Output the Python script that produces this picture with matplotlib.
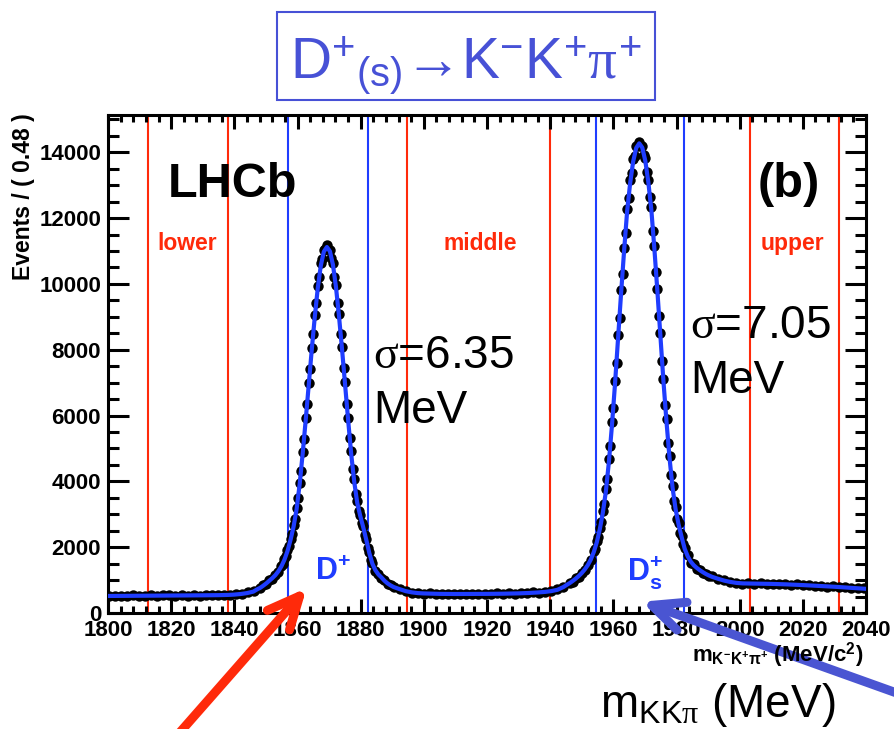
import numpy as np
import matplotlib
matplotlib.use('Agg')
import matplotlib.pyplot as plt
from matplotlib.ticker import MultipleLocator
from matplotlib.patches import Rectangle

plt.rcParams['font.family'] = ['Liberation Sans', 'DejaVu Sans']
plt.rcParams['mathtext.fontset'] = 'custom'
plt.rcParams['mathtext.rm'] = 'Liberation Sans'
plt.rcParams['mathtext.it'] = 'Liberation Serif'
plt.rcParams['mathtext.bf'] = 'Liberation Sans:bold'

# peak positions (MeV)
DP_MASS = 1869.3
DS_MASS = 1968.2

# data points, events per 0.48 MeV bin, by segment
left_flat = [505, 530, 512, 525, 535, 515, 528, 540, 522, 533, 545, 520, 538,
             530, 548, 532, 545, 538, 552, 545, 560, 572, 590, 625, 675, 760]
dp_outer_left = [845, 885, 1000, 1045, 1170, 1255]
dp_core = [1440, 1500, 1650, 1730, 1905, 2030, 2250, 2390, 2660, 2850, 3200, 3480,
           3950, 4320, 4900, 5290, 5920, 6350, 6990, 7420, 8060, 8470, 9060, 9410,
           9950, 10200, 10620, 10760, 11040, 11060,
           11180,
           11050, 11040, 10780, 10640, 10210, 9960, 9420, 9080, 8470, 8090, 7430,
           7010, 6350, 5940, 5310, 4910, 4370, 4060, 3610, 3390, 3090, 2990, 2740,
           2630, 2380, 2250, 1990, 1850, 1620, 1530]
dp_outer_right = [1280, 1190, 1060, 995, 885, 855]
mid_flat = [805, 715, 680, 615, 612, 585, 600, 575, 592, 570, 585, 590, 568, 586,
            575, 592, 578, 595, 582, 598, 588, 610, 598, 625, 618, 652, 660, 720, 790]
ds_outer_left = [920, 955, 1060, 1105, 1230, 1300, 1470, 1600]
ds_core = [1880, 1960, 2190, 2310, 2590, 2760, 3100, 3310, 3760, 4080, 4680, 5070,
           5790, 6240, 7050, 7600, 8450, 8960, 9800, 10290, 11090, 11560, 12290,
           12600, 13150, 13360, 13800, 13900, 14190, 14180,
           14320,
           14200, 14200, 13920, 13820, 13390, 13170, 12640, 12330, 11620, 11150,
           10360, 9850, 9030, 8500, 7670, 7110, 6320, 5880, 5170, 4780, 4180, 3870,
           3410, 3210, 2850, 2730, 2440, 2340, 2090, 1990]
ds_outer_right = [1750, 1530, 1480, 1350, 1320, 1220, 1200, 1125]
right_flat = [1110, 1025, 1000, 930, 925, 885, 910, 880, 905, 875, 895, 868, 885,
              855, 870, 838, 852, 822, 835, 800, 812, 780, 790, 755, 770, 745]

# fit curve
fit_left_x = [1800, 1805, 1810, 1815, 1820, 1825, 1830, 1835, 1838, 1840, 1842, 1844,
              1846, 1847.22, 1848.18]
fit_left_y = [518, 521, 524, 527, 530, 534, 538, 543, 550, 560, 578, 605, 650, 720, 765]
fit_dp = [830, 900, 980, 1060, 1150, 1270, 1420, 1620, 1880, 2220, 2620, 3150, 3900,
          4830, 5850, 6920, 7990, 8990, 9880, 10560, 10980,
          11120,
          10990, 10580, 9900, 9010, 8010, 6940, 5870, 4850, 4000, 3350, 2950, 2600,
          2220, 1820, 1500, 1300, 1170, 1080, 980, 900, 840]
fit_mid_x = [1890.42, 1892.34, 1894.26, 1896.18, 1898.1, 1900, 1905, 1910, 1915, 1920,
             1925, 1930, 1933, 1936, 1938.4, 1940.3, 1942.3, 1944.2, 1945.16]
fit_mid_y = [790, 725, 665, 628, 605, 595, 582, 578, 579, 582, 587, 597, 608, 624, 642,
             665, 705, 790, 850]
fit_ds = [905, 970, 1040, 1120, 1210, 1320, 1450, 1620, 1850, 2150, 2550, 3050, 3700,
          4600, 5700, 6950, 8350, 9700, 11000, 12200, 13060, 13720, 14130,
          14270,
          14140, 13740, 13090, 12240, 11060, 9760, 8410, 7020, 5800, 4700, 3800, 3150,
          2680, 2300, 1950, 1720, 1560, 1450, 1370, 1300, 1240, 1185, 1140]
fit_right_x = [1991.24, 1993.16, 1995.08, 1997, 1999, 2001, 2005, 2010, 2015, 2020,
               2025, 2030, 2035, 2040]
fit_right_y = [1100, 1040, 985, 945, 915, 900, 893, 885, 870, 849, 824, 798, 767, 735]

# signal / sideband boundaries
red_cuts = [1812.7, 1838.0, 1894.7, 1940.0, 2003.3, 2031.5]
blue_cuts = [1857.0, 1882.3, 1954.5, 1982.4]

RED = '#ff2a0a'
BLUE = '#1f3dff'
TITLE_BLUE = '#4751d6'
ARROW_BLUE = '#4a55d2'


def seg(start, step, vals):
    return start + step * np.arange(len(vals))


data_x = np.concatenate([
    seg(1800.24, 1.92, left_flat),
    seg(DP_MASS - 20.16, 0.96, dp_outer_left),
    seg(DP_MASS - 14.4, 0.48, dp_core),
    seg(DP_MASS + 15.36, 0.96, dp_outer_right),
    seg(1890.42, 1.92, mid_flat),
    seg(DS_MASS - 22.08, 0.96, ds_outer_left),
    seg(DS_MASS - 14.4, 0.48, ds_core),
    seg(DS_MASS + 15.36, 0.96, ds_outer_right),
    seg(1991.24, 1.92, right_flat),
])
data_y = np.concatenate([left_flat, dp_outer_left, dp_core, dp_outer_right, mid_flat,
                         ds_outer_left, ds_core, ds_outer_right, right_flat])

fit_x = np.concatenate([fit_left_x, seg(DP_MASS - 20.16, 0.96, fit_dp), fit_mid_x,
                        seg(DS_MASS - 22.08, 0.96, fit_ds), fit_right_x])
fit_y = np.concatenate([fit_left_y, fit_dp, fit_mid_y, fit_ds, fit_right_y])

fig = plt.figure(figsize=(8.95, 7.29), dpi=100)
ax = fig.add_axes([0.1207, 0.1591, 0.8469, 0.6831])

for c in red_cuts:
    ax.axvline(c, color=RED, lw=1.5, zorder=1)
for c in blue_cuts:
    ax.axvline(c, color=BLUE, lw=1.5, zorder=1)

ax.plot(data_x, data_y, 'o', color='black', markersize=7.5, markeredgewidth=0, zorder=3)
ax.plot(fit_x, fit_y, color=BLUE, lw=3, zorder=4)

ax.set_xlim(1800, 2040)
ax.set_ylim(0, 15130)
ax.set_xticks(np.arange(1800, 2041, 20))
ax.set_yticks(np.arange(0, 14001, 2000))
ax.xaxis.set_minor_locator(MultipleLocator(4))
ax.yaxis.set_minor_locator(MultipleLocator(500))
ax.tick_params(which='both', direction='in', top=True, right=True, width=2.2,
               labelsize=16)
ax.xaxis.set_tick_params(which='major', length=10, pad=5)
ax.xaxis.set_tick_params(which='minor', length=5)
ax.yaxis.set_tick_params(which='major', length=15, pad=5)
ax.yaxis.set_tick_params(which='minor', length=8)
for lbl in ax.get_xticklabels() + ax.get_yticklabels():
    lbl.set_fontweight('bold')
for sp in ax.spines.values():
    sp.set_linewidth(2.2)

# in-plot labels
ax.text(1819, 12650, 'LHCb', fontsize=35, fontweight='bold', va='baseline')
ax.text(2005.8, 12650, '(b)', fontsize=35, fontweight='bold', va='baseline')
ax.text(1815.5, 11030, 'lower', fontsize=16.5, fontweight='bold', color=RED, va='baseline')
ax.text(1906.1, 11030, 'middle', fontsize=16.5, fontweight='bold', color=RED, va='baseline')
ax.text(2006.5, 11030, 'upper', fontsize=16.5, fontweight='bold', color=RED, va='baseline')
ax.text(1883.9, 7447, r'$\sigma$=6.35', fontsize=33, va='baseline')
ax.text(1883.9, 5775, 'MeV', fontsize=33, va='baseline')
ax.text(1984.3, 8350, r'$\sigma$=7.05', fontsize=33, va='baseline')
ax.text(1984.3, 6687, 'MeV', fontsize=33, va='baseline')
ax.text(1865.5, 1003, r'$\mathbf{D^{+}}$', fontsize=22, color=BLUE, va='baseline')
ax.text(1964.3, 1003, r'$\mathbf{D_{s}^{+}}$', fontsize=22, color=BLUE, va='baseline')

# axis titles
fig.text(0.0268, 0.845, 'Events / ( 0.48 )', rotation=90, ha='center', va='top',
         fontsize=16.5, fontweight='bold')
fig.text(0.9643, 0.092, r'$\mathbf{m_{K^{-}K^{+}\pi^{+}}}$ (MeV/c$^{\mathbf{2}}$)',
         ha='right', va='baseline', fontsize=16, fontweight='bold')
fig.text(0.6704, 0.0165, r'm$_{\mathrm{KK}\pi}$ (MeV)', ha='left', va='baseline',
         fontsize=33)

# boxed decay title
fig.add_artist(Rectangle((0.3095, 0.8628), 0.4223, 0.1207, transform=fig.transFigure,
                         fill=False, edgecolor=TITLE_BLUE, lw=1.5))
fig.text(0.5207, 0.893, 'D$^{+}$$_{(\\mathrm{s})}$\u2192K$^{-}$K$^{+}$$\\pi^{+}$',
         ha='center', va='baseline', fontsize=41, color=TITLE_BLUE)

# arrows pointing at the two peaks
ax.annotate('', xy=(1862.9, 760), xycoords='data', xytext=(0.19, -0.02),
            textcoords='figure fraction', annotation_clip=False,
            arrowprops=dict(arrowstyle='->,head_length=23,head_width=10.6',
                            mutation_scale=1, lw=6.5, color=RED,
                            shrinkA=0, shrinkB=0))
ax.annotate('', xy=(1969, 343), xycoords='data', xytext=(1.03, 0.037),
            textcoords='figure fraction', annotation_clip=False,
            arrowprops=dict(arrowstyle='->,head_length=23,head_width=10.6',
                            mutation_scale=1, lw=6.5, color=ARROW_BLUE,
                            shrinkA=0, shrinkB=0))

fig.savefig('out.png', dpi=100)
